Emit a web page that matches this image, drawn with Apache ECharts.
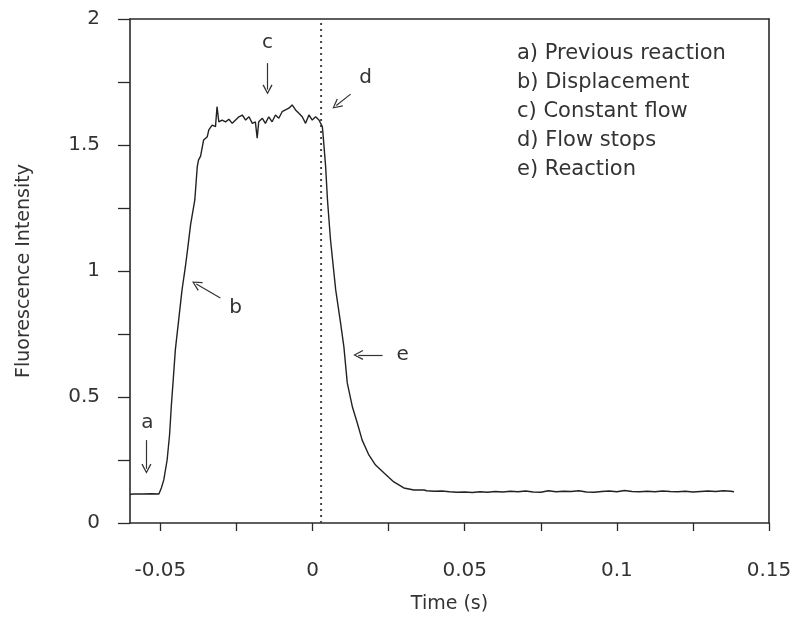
<!DOCTYPE html>
<html>
<head>
<meta charset="utf-8">
<script src="https://cdn.jsdelivr.net/npm/echarts@6/dist/echarts.min.js"></script>
<style>
html,body{margin:0;padding:0;background:#fff;}
#chart{width:796px;height:622px;}
</style>
</head>
<body>
<div id="chart"></div>
<script>
// ---- data (time in s, fluorescence intensity) ----
const baselineTime = [-0.060, -0.059, -0.056, -0.053, -0.0505];
const baselineValue = [0.113, 0.115, 0.115, 0.116, 0.115];

const riseTime = [-0.0497, -0.0489, -0.0478, -0.0470, -0.0464, -0.0458, -0.0451, -0.0440, -0.0429, -0.0418, -0.0411, -0.0401, -0.0387, -0.0379, -0.0375];
const riseValue = [0.139, 0.171, 0.250, 0.349, 0.468, 0.567, 0.687, 0.806, 0.925, 1.017, 1.083, 1.183, 1.282, 1.413, 1.440];

const plateauTime = [-0.0368, -0.0358, -0.0346, -0.0341, -0.0330, -0.0319, -0.0314, -0.0308, -0.0297, -0.0286, -0.0275, -0.0264, -0.0253, -0.0242, -0.0231, -0.0220, -0.0209, -0.0198, -0.0188, -0.0182, -0.0177, -0.0165, -0.0155, -0.0144, -0.0133, -0.0122, -0.0111, -0.0100, -0.0089, -0.0078, -0.0067, -0.0056, -0.0045, -0.0034, -0.0023, -0.0012, -0.0001, 0.0010, 0.0021, 0.0032];
const plateauValue = [1.456, 1.520, 1.533, 1.560, 1.579, 1.573, 1.652, 1.592, 1.599, 1.592, 1.602, 1.586, 1.599, 1.612, 1.619, 1.599, 1.612, 1.586, 1.592, 1.527, 1.592, 1.606, 1.586, 1.612, 1.592, 1.619, 1.606, 1.632, 1.639, 1.646, 1.659, 1.639, 1.626, 1.612, 1.586, 1.619, 1.599, 1.612, 1.599, 1.573];

const decayTime = [0.0034, 0.0043, 0.0049, 0.0059, 0.0076, 0.0092, 0.0103, 0.0114, 0.0131, 0.0147, 0.0163, 0.0185, 0.0207, 0.0235, 0.0267, 0.0300, 0.0333, 0.0366];
const decayValue = [1.548, 1.413, 1.282, 1.123, 0.925, 0.794, 0.698, 0.556, 0.460, 0.397, 0.329, 0.270, 0.230, 0.198, 0.163, 0.139, 0.131, 0.131];

const tailTime = [0.0375, 0.0400, 0.0425, 0.0450, 0.0475, 0.0500, 0.0525, 0.0550, 0.0575, 0.0600, 0.0625, 0.0650, 0.0675, 0.0700, 0.0725, 0.0750, 0.0775, 0.0800, 0.0825, 0.0850, 0.0875, 0.0900, 0.0925, 0.0950, 0.0975, 0.1000, 0.1025, 0.1050, 0.1075, 0.1100, 0.1125, 0.1150, 0.1175, 0.1200, 0.1225, 0.1250, 0.1275, 0.1300, 0.1325, 0.1350, 0.1375, 0.1385];
const tailValue = [0.128, 0.126, 0.127, 0.124, 0.122, 0.123, 0.121, 0.124, 0.122, 0.125, 0.123, 0.126, 0.124, 0.127, 0.123, 0.122, 0.128, 0.124, 0.126, 0.125, 0.128, 0.123, 0.122, 0.125, 0.127, 0.124, 0.129, 0.125, 0.124, 0.126, 0.124, 0.127, 0.125, 0.124, 0.126, 0.123, 0.125, 0.127, 0.125, 0.128, 0.126, 0.124];

const flowStopTime = 0.0028;

const xTickValues = [-0.05, -0.025, 0, 0.025, 0.05, 0.075, 0.1, 0.125, 0.15];
const xLabelValues = [-0.05, 0, 0.05, 0.1, 0.15];
const yTickValues = [0, 0.25, 0.5, 0.75, 1, 1.25, 1.5, 1.75, 2];
const yLabelValues = [0, 0.5, 1, 1.5, 2];

const legendLines = ['a) Previous reaction', 'b) Displacement', 'c) Constant flow', 'd) Flow stops', 'e) Reaction'];

// annotation letters: [label, time, value]
const annotationLabels = [
  ['a', -0.0543, 0.397],
  ['b', -0.0253, 0.853],
  ['c', -0.0148, 1.905],
  ['d', 0.0174, 1.766],
  ['e', 0.0296, 0.667]
];
// arrows: [tailTime, tailValue, headTime, headValue]
const annotationArrows = [
  [-0.0546, 0.329, -0.0546, 0.215],
  [-0.0303, 0.893, -0.0382, 0.948],
  [-0.0148, 1.825, -0.0148, 1.720],
  [0.0125, 1.702, 0.0078, 1.657],
  [0.0230, 0.667, 0.0150, 0.667]
];

// ---- build ----
const allTime = [].concat(baselineTime, riseTime, plateauTime, decayTime, tailTime);
const allValue = [].concat(baselineValue, riseValue, plateauValue, decayValue, tailValue);
const curve = allTime.map((t, i) => [t, allValue[i]]);

const FONT = 'DejaVu Sans';
const TXT = '#333';
const AX = '#2a2a2a';

const chevron = 'path://M5,0 L10,10 L8.8,10.6 L5,2.6 L1.2,10.6 L0,10 Z';

const arrowData = annotationArrows.map(a => [
  {coord: [a[0], a[1]], symbol: 'none'},
  {coord: [a[2], a[3]], symbol: chevron, symbolSize: [10, 10]}
]);

const chart = echarts.init(document.getElementById('chart'), null, {renderer: 'canvas'});
chart.setOption({
  animation: false,
  backgroundColor: '#fff',
  grid: {left: 130, right: 27, top: 19, bottom: 99},
  xAxis: [{
    type: 'value', min: -0.06, max: 0.15, position: 'bottom',
    name: 'Time (s)', nameLocation: 'middle', nameGap: 72,
    nameTextStyle: {fontFamily: FONT, fontSize: 19, color: TXT},
    axisLine: {show: true, onZero: false, lineStyle: {color: AX, width: 1.6}},
    axisTick: {show: true, inside: false, length: 8, customValues: xTickValues, lineStyle: {color: AX, width: 1.3}},
    axisLabel: {customValues: xLabelValues, margin: 38, fontFamily: FONT, fontSize: 20, color: TXT,
      formatter: v => String(Number(v.toFixed(3)))},
    splitLine: {show: false}
  }, {
    type: 'value', min: -0.06, max: 0.15, position: 'top',
    axisLine: {show: true, onZero: false, lineStyle: {color: AX, width: 1.6}},
    axisTick: {show: false}, axisLabel: {show: false}, splitLine: {show: false}
  }],
  yAxis: [{
    type: 'value', min: 0, max: 2, position: 'left',
    name: 'Fluorescence Intensity', nameLocation: 'middle', nameGap: 96,
    nameTextStyle: {fontFamily: FONT, fontSize: 19, color: TXT},
    axisLine: {show: true, onZero: false, lineStyle: {color: AX, width: 1.6}},
    axisTick: {show: true, inside: false, length: 12, customValues: yTickValues, lineStyle: {color: AX, width: 1.3}},
    axisLabel: {customValues: yLabelValues, margin: 30, fontFamily: FONT, fontSize: 20, color: TXT,
      padding: [8, 0, 0, 0],
      formatter: v => String(Number(v.toFixed(2)))},
    splitLine: {show: false}
  }, {
    type: 'value', min: 0, max: 2, position: 'right',
    axisLine: {show: true, onZero: false, lineStyle: {color: AX, width: 1.6}},
    axisTick: {show: false}, axisLabel: {show: false}, splitLine: {show: false}
  }],
  series: [{
    type: 'line',
    data: [[flowStopTime, 0], [flowStopTime, 2]],
    showSymbol: false, symbol: 'none',
    lineStyle: {color: '#444', width: 2, type: [2, 4]},
    silent: true, z: 1
  }, {
    type: 'line',
    data: curve,
    showSymbol: false, symbol: 'none',
    lineStyle: {color: '#222', width: 1.4},
    z: 3,
    markLine: {
      silent: true,
      animation: false,
      lineStyle: {color: '#333', width: 1.2, type: 'solid'},
      label: {show: false},
      emphasis: {disabled: true},
      data: arrowData
    },
    markPoint: {
      silent: true,
      symbol: 'circle', symbolSize: 0,
      label: {show: true, position: 'inside', fontFamily: FONT, fontSize: 20, color: TXT, formatter: p => p.name},
      data: annotationLabels.map(a => ({name: a[0], coord: [a[1], a[2]]}))
    }
  }],
  graphic: [{
    type: 'text',
    left: 517, top: 39,
    style: {
      text: legendLines.join('\n'),
      font: '21px "DejaVu Sans"',
      fill: TXT,
      lineHeight: 29
    }
  }]
});
</script>
</body>
</html>
